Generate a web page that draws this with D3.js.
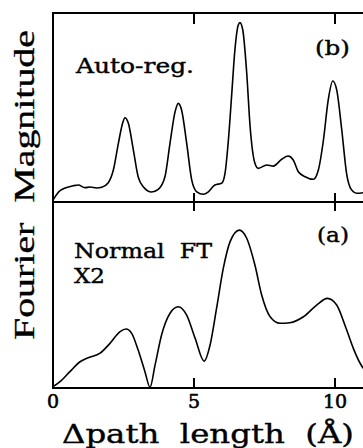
<!DOCTYPE html>
<html><head><meta charset="utf-8">
<script src="https://cdn.jsdelivr.net/npm/d3@7/dist/d3.min.js"></script>
<style>html,body{margin:0;padding:0;background:#fff;}svg{display:block;}</style>
</head><body>
<svg id="c" width="363" height="448"></svg>
<script>
// Panel (b): auto-regressive FT magnitude  [path length (Å), magnitude]
const autoRegX = [0.0,0.25,0.72,0.90,1.13,1.31,1.55,1.73,1.96,2.14,2.32,2.47,2.55,2.67,2.85,3.02,3.20,3.50,3.73,3.97,4.15,4.33,4.44,4.56,4.74,4.92,5.10,5.33,5.51,5.74,5.98,6.10,6.22,6.34,6.45,6.57,6.63,6.73,6.87,6.99,7.16,7.28,7.58,7.81,8.11,8.34,8.52,8.70,8.94,9.23,9.41,9.59,9.76,9.92,10.06,10.24,10.41,10.59,10.77,11.0];
const autoRegY = [1.0,6.0,8.6,9.0,7.6,7.9,7.4,7.8,10.2,16.9,31.2,41.8,44.6,41.8,27.5,13.4,8.1,5.3,6.7,13.4,31.2,47.8,52.2,48.7,31.1,11.6,5.4,4.1,5.4,9.0,9.9,15.2,32.8,57.5,80.4,93.7,94.9,91.0,68.1,39.8,20.5,17.8,19.6,19.0,22.6,24.3,22.2,16.0,13.4,12.0,16.9,32.8,54.0,64.0,59.3,38.1,15.2,6.3,4.6,4.9];
// Panel (a): normal FT magnitude (x2)
const normalX = [0.0,0.25,0.60,0.96,1.25,1.67,2.02,2.38,2.59,2.79,3.02,3.26,3.44,3.62,3.85,4.15,4.44,4.74,5.04,5.36,5.57,5.80,6.04,6.28,6.61,6.87,7.16,7.40,7.70,8.05,8.40,8.88,9.35,9.73,10.06,10.35,10.65,10.89,11.0];
const normalY = [0.7,3.4,8.8,14.1,16.3,18.7,24.0,30.3,31.7,29.4,20.4,8.8,0.4,12.4,28.5,40.2,43.7,39.2,26.7,14.4,23.1,42.8,64.4,78.7,84.9,80.5,66.1,50.0,38.3,34.8,35.1,38.3,44.6,48.2,44.6,33.9,21.3,13.3,10.6];
const xTicks = [0, 5, 10];
const xTickLabels = ["0", "5", "10"];

const svg = d3.select("#c");
const font = "'DejaVu Serif', serif";
const x = d3.scaleLinear().domain([0, 10]).range([53, 335]);
const yTop = d3.scaleLinear().domain([0, 100]).range([202, 13]);
const yBot = d3.scaleLinear().domain([0, 100]).range([388, 202]);
const right = 366;

const line = (ys) => d3.line().x(d => x(d[0])).y(d => ys(d[1])).curve(d3.curveMonotoneX);

svg.append("path")
  .datum(autoRegX.map((v, i) => [v, autoRegY[i]]))
  .attr("d", line(yTop)).attr("fill", "none").attr("stroke", "#000").attr("stroke-width", 1.6);
svg.append("path")
  .datum(normalX.map((v, i) => [v, normalY[i]]))
  .attr("d", line(yBot)).attr("fill", "none").attr("stroke", "#000").attr("stroke-width", 1.6);

// frame
const fr = svg.append("g").attr("stroke", "#000").attr("stroke-width", 2).attr("fill", "none");
fr.append("line").attr("x1", 53).attr("x2", right).attr("y1", 13).attr("y2", 13);
fr.append("line").attr("x1", 53).attr("x2", right).attr("y1", 202).attr("y2", 202);
fr.append("line").attr("x1", 53).attr("x2", right).attr("y1", 388).attr("y2", 388);
fr.append("line").attr("x1", 53).attr("x2", 53).attr("y1", 12).attr("y2", 389);

// ticks
xTicks.filter(t => t > 0).forEach(t => {
  fr.append("line").attr("x1", x(t)).attr("x2", x(t)).attr("y1", 13).attr("y2", 24);
  fr.append("line").attr("x1", x(t)).attr("x2", x(t)).attr("y1", 193).attr("y2", 211);
  fr.append("line").attr("x1", x(t)).attr("x2", x(t)).attr("y1", 378).attr("y2", 388);
});

const txt = (s, tx, ty, size, opts = {}) => {
  const t = svg.append("text").attr("x", tx).attr("y", ty)
    .attr("font-family", opts.family || font).attr("font-size", size)
    .attr("fill", "#000").attr("stroke", "#000").attr("stroke-width", opts.sw == null ? 0.4 : opts.sw)
    .attr("xml:space", "preserve").style("white-space", "pre").text(s);
  if (opts.len) t.attr("textLength", opts.len).attr("lengthAdjust", "spacingAndGlyphs");
  if (opts.anchor) t.attr("text-anchor", opts.anchor);
  return t;
};

// tick labels
xTicks.forEach((d, i) => txt(xTickLabels[i], x(d), 408, 19, {anchor: "middle", sw: 0.6}));

txt("Auto-reg.", 76, 73, 20, {len: 118});
txt("(b)", 315, 55, 20, {len: 35});
txt("Normal  FT", 74, 258, 20, {len: 138});
txt("X2", 74, 283, 20, {len: 31});
txt("(a)", 317, 242, 20, {len: 32});
txt("\u0394path  length  (\u00C5)", 62, 443, 26, {len: 292});

svg.append("text")
  .attr("transform", "translate(34,185) rotate(-90)")
  .attr("text-anchor", "middle")
  .attr("font-family", "'Liberation Serif', serif").attr("font-size", 29)
  .attr("stroke", "#000").attr("stroke-width", 0.3)
  .attr("xml:space", "preserve").style("white-space", "pre")
  .attr("textLength", 310).attr("lengthAdjust", "spacingAndGlyphs")
  .text("Fourier  Magnitude");
</script>
</body></html>
